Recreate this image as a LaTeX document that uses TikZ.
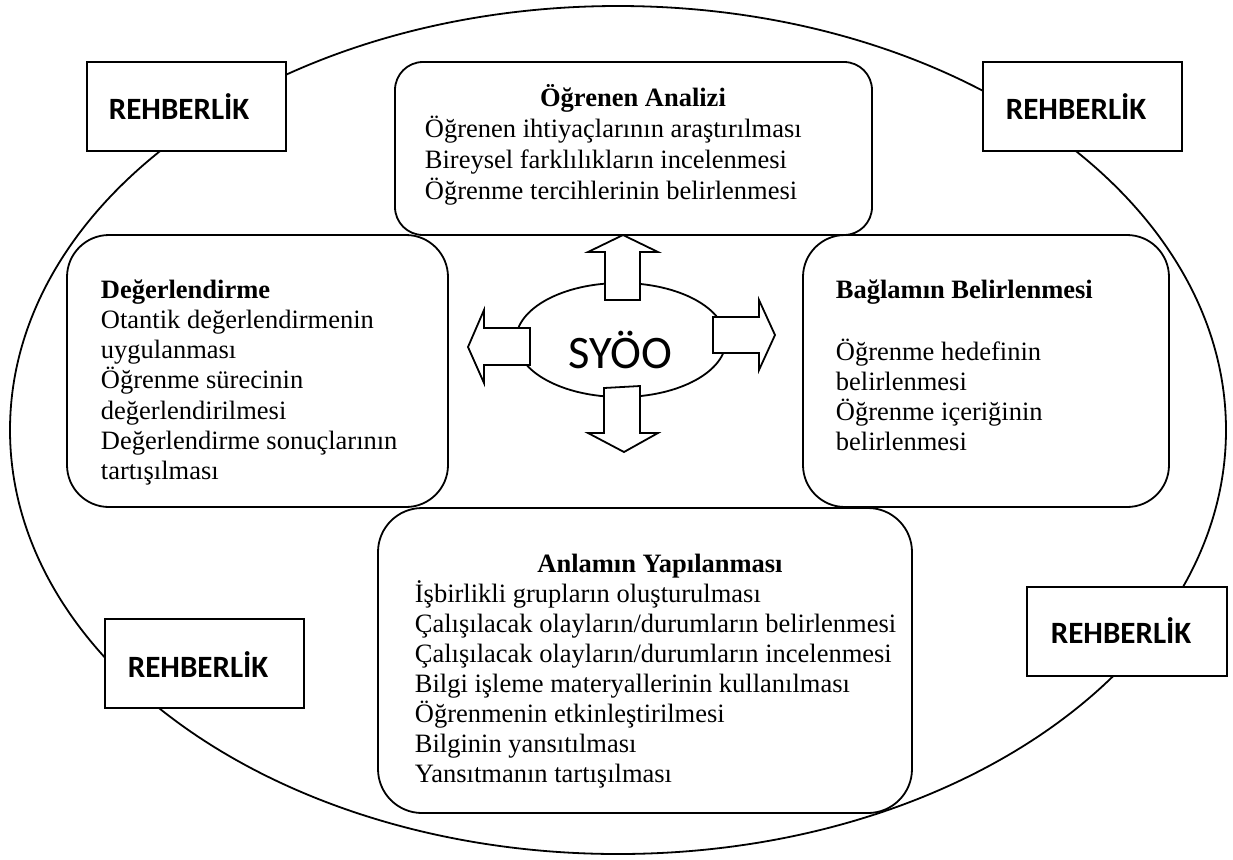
\documentclass[tikz,border=0pt]{standalone}
\usepackage{fontspec}
\setmainfont{Liberation Serif}
\newfontfamily\calibri{Carlito}

\begin{document}
\begin{tikzpicture}[x=0.5pt, y=-0.5pt, line width=0.9pt,
  rehberkutu/.style={draw, fill=white},
  rehberyazi/.style={anchor=base west, inner sep=0pt, font=\calibri\bfseries\fontsize{15.5}{18}\selectfont},
  asama/.style={draw, fill=white, rounded corners=21pt},
  satir/.style={anchor=base west, inner sep=0pt, font=\fontsize{13.25}{15}\selectfont},
  baslik/.style={anchor=base west, inner sep=0pt, font=\bfseries\fontsize{13.25}{15}\selectfont},
  ok/.style={draw, fill=white, line join=miter}]
  \useasboundingbox (0,0) rectangle (1233,859);

  % outer ellipse
  \draw (618,430) ellipse [x radius=304pt, y radius=212pt];

  % rehberlik boxes
  \draw[rehberkutu] (87,62) rectangle (286,151);
  \node[rehberyazi] (rehber-tl) at (108,119) {REHBERLİK};
  \draw[rehberkutu] (983,62) rectangle (1182,151);
  \node[rehberyazi] (rehber-tr) at (1005,119) {REHBERLİK};
  \draw[rehberkutu] (105,619) rectangle (304,708);
  \node[rehberyazi] (rehber-bl) at (127,677) {REHBERLİK};
  \draw[rehberkutu] (1027,587) rectangle (1227,676);
  \node[rehberyazi] (rehber-br) at (1050,643) {REHBERLİK};

  % ogrenen analizi
  \draw[asama, rounded corners=14pt] (395,62) rectangle (872,235);
  \node[baslik, anchor=base] (ogr) at (633,106) {Öğrenen Analizi};
  \foreach \t [count=\i] in {Öğrenen ihtiyaçlarının araştırılması,
      Bireysel farklılıkların incelenmesi, Öğrenme tercihlerinin belirlenmesi}
    \node[satir] (ogr-\i) at (424,106+31*\i) {\t};

  % degerlendirme
  \draw[asama] (67,235) rectangle (448,507);
  \node[baslik] (deg) at (100,298) {Değerlendirme};
  \foreach \t [count=\i] in {Otantik değerlendirmenin, uygulanması,
      Öğrenme sürecinin, değerlendirilmesi, Değerlendirme sonuçlarının, tartışılması}
    \node[satir] (deg-\i) at (100,298+30.3*\i) {\t};

  % baglamin belirlenmesi
  \draw[asama] (803,235) rectangle (1169,507);
  \node[baslik] (bag) at (835,298) {Bağlamın Belirlenmesi};
  \foreach \t [count=\i] in {Öğrenme hedefinin, belirlenmesi,
      Öğrenme içeriğinin, belirlenmesi}
    \node[satir] (bag-\i) at (835,330+30.1*\i) {\t};

  % anlamin yapilanmasi
  \draw[asama, rounded corners=22pt] (378,508) rectangle (912,813);
  \node[baslik, anchor=base] (anl) at (660,572) {Anlamın Yapılanması};
  \foreach \t [count=\i] in {İşbirlikli grupların oluşturulması,
      Çalışılacak olayların/durumların belirlenmesi,
      Çalışılacak olayların/durumların incelenmesi,
      Bilgi işleme materyallerinin kullanılması,
      Öğrenmenin etkinleştirilmesi, Bilginin yansıtılması,
      Yansıtmanın tartışılması}
    \node[satir] (anl-\i) at (414,572+30.1*\i) {\t};

  % syoo
  \draw[fill=white] (621,340) ellipse [x radius=52.5pt, y radius=28.5pt];
  \node[inner sep=0pt, anchor=base, font=\calibri\fontsize{23.3}{28}\selectfont] (syoo) at (620,368) {SYÖO};

  % block arrows
  \draw[ok] (605,300) -- (605,252) -- (588,252) -- (623,235) -- (658,252)
            -- (640,252) -- (640,300) -- cycle;
  \draw[ok] (604,388) -- (604,433) -- (588,433) -- (624,452) -- (658,433)
            -- (640,433) -- (640,386) -- cycle;
  \draw[ok] (530,328) -- (484,328) -- (484,310) -- (468,347) -- (484,383)
            -- (484,365) -- (530,365) -- cycle;
  \draw[ok] (713,317) -- (759,317) -- (759,300) -- (775,335) -- (759,370)
            -- (759,353) -- (713,353) -- cycle;
\end{tikzpicture}
\end{document}
